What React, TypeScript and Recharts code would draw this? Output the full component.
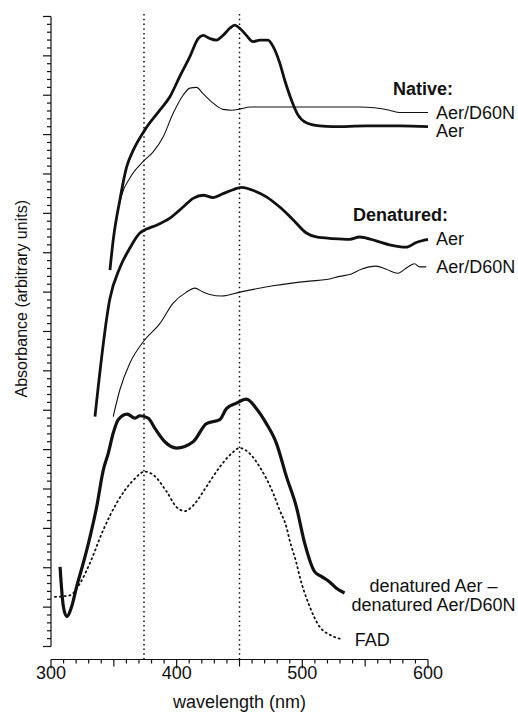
import { LineChart, Line, XAxis, YAxis, ReferenceLine } from 'recharts';

// wavelength (nm), absorbance (arbitrary units; one unit = one minor tick)
const nativeAer: [number, number][] = [
  [346.9, 47.8], [349.5, 51.6], [354.8, 56.7], [360.2, 60.9], [365.4, 63.0], [374.7, 65.6],
  [386.6, 68.1], [394.6, 69.8], [402.5, 72.4], [410.5, 74.9], [417.1, 77.2], [421, 77.6],
  [426.4, 77.2], [431.7, 77.0], [436.9, 77.6], [442.3, 78.5], [446.2, 78.9], [450.2, 78.5],
  [455.5, 77.6], [460.8, 76.8], [466.1, 77.0], [472.7, 77.0], [476.7, 76.2], [482, 74.1],
  [486, 71.9], [491.3, 69.4], [496.5, 67.5], [503.2, 66.5], [513.8, 66.1], [524.4, 66.0],
  [550.9, 66.1], [577.4, 66.1], [600, 66.0],
];

const nativeD60N: [number, number][] = [
  [346.9, 47.8], [349.5, 51.6], [356.2, 57.3], [362.8, 59.5], [373.4, 61.6], [381.3, 62.8],
  [389.2, 64.7], [397.2, 67.7], [405.1, 70.0], [410.5, 70.9], [415.8, 71.0], [421, 70.2],
  [429, 69.0], [436.9, 68.2], [443.6, 68.1], [451.6, 68.3], [458.1, 68.5], [484.6, 68.5],
  [537.6, 68.5], [545.6, 68.5], [569.4, 68.1], [577.4, 67.8], [600, 67.8],
];

const denaturedAer: [number, number][] = [
  [335, 29.2], [346.9, 44.2], [354.8, 48.1], [362.8, 50.6], [370.7, 52.5], [376.1, 53.0],
  [384, 53.5], [394.6, 54.4], [405.1, 55.8], [413.1, 56.9], [421, 57.3], [429, 57.0],
  [436.9, 57.5], [444.9, 58.0], [451.6, 58.3], [459.5, 58.0], [471.4, 57.1], [482, 55.8],
  [492.6, 54.2], [503.2, 52.5], [511.2, 52.0], [524.4, 51.8], [537.6, 51.7], [545.6, 52.0],
  [558.8, 51.5], [569.4, 51.0], [582.7, 50.7], [590.6, 51.3], [600, 51.7],
];

const denaturedD60N: [number, number][] = [
  [349.5, 29.2], [354.8, 32.6], [362.8, 36.0], [373.4, 38.7], [386.6, 41.0], [397.2, 43.6],
  [407.8, 45.0], [414.4, 45.5], [421, 45.0], [426.4, 44.7], [435.7, 44.5], [450.2, 45.0],
  [476.7, 45.8], [505.8, 46.4], [519.1, 46.6], [529.7, 47.0], [539, 47.3], [546.9, 47.9],
  [558.8, 48.3], [566.8, 47.9], [576, 47.4], [584, 48.2], [589.3, 48.6], [593.3, 48.2],
  [598.6, 48.2],
];

const difference: [number, number][] = [
  [307.2, 10.1], [309.8, 5.1], [312.5, 3.8], [316.5, 5.1], [320.4, 7.6], [325.7, 10.6],
  [331, 13.9], [336.3, 17.7], [341.6, 22.4], [345.5, 24.5], [349.5, 27.1], [353.5, 28.8],
  [360.6, 29.5], [366.8, 29.0], [370.7, 29.3], [377.3, 29.0], [382.7, 27.7], [390.6, 26.0],
  [399.9, 25.2], [413.1, 26.0], [423.7, 28.3], [434.3, 28.8], [439.6, 30.2], [447.6, 30.9],
  [455.5, 31.4], [463.5, 30.2], [471.4, 28.3], [479.4, 25.8], [487.3, 21.6], [495.3, 17.7],
  [501.9, 13.1], [509.8, 9.5], [515.1, 8.9], [521.7, 8.2], [527.1, 7.4], [533.6, 6.8],
];

const fad: [number, number][] = [
  [303.2, 6.3], [315.1, 6.5], [323, 8.0], [331, 10.6], [341.6, 14.8], [352.2, 18.2],
  [365.4, 21.1], [374.7, 22.2], [381.3, 21.8], [391.9, 19.7], [399.9, 17.7], [406.5, 17.2],
  [413.1, 17.9], [423.7, 20.3], [434.3, 22.8], [443.6, 24.5], [450.2, 25.2], [456.8, 24.7],
  [466.1, 22.8], [476.7, 19.5], [482, 17.3], [487.3, 15.2], [489.9, 13.5], [495.3, 10.6],
  [497.9, 8.9], [505.8, 5.1], [513.8, 2.5], [521.7, 1.5], [529.7, 1.0],
];

const markerLines = [374, 450];
const xTicks = Array.from({ length: 31 }, (_, i) => 300 + i * 10);
const yTicks = Array.from({ length: 81 }, (_, i) => i);

const FONT = '"Liberation Sans", Arial, Helvetica, sans-serif';
const INK = '#111';

const toPoints = (arr: [number, number][]) => arr.map(([x, y]) => ({ x, y }));

function XTick(props: any) {
  const { x, y, payload } = props;
  const v = payload.value;
  const len = v % 100 === 0 ? 9 : v % 50 === 0 ? 7 : 4;
  return (
    <g>
      <line x1={x} x2={x} y1={y} y2={y + len} stroke={INK} strokeWidth={1.2} />
      {v % 100 === 0 && (
        <text x={x} y={y + 13} textAnchor="middle" dominantBaseline="central"
          fontFamily={FONT} fontSize={18} fill={INK}>{v}</text>
      )}
    </g>
  );
}

function YTick(props: any) {
  const { x, y, payload } = props;
  const len = payload.value % 5 === 0 ? 8 : 4;
  return <line x1={x - len} x2={x} y1={y} y2={y} stroke={INK} strokeWidth={1.2} />;
}

type Tag = { text: string; dx: number; dy: number; bold?: boolean; anchor?: 'start' | 'middle' };

// text attached to the last point of a series
const endLabel = (count: number, tags: Tag[]) => (props: any) => {
  if (props.index !== count - 1) return null;
  return (
    <g>
      {tags.map((t) => (
        <text key={t.text} x={props.x + t.dx} y={props.y + t.dy} textAnchor={t.anchor || 'start'}
          dominantBaseline="central" fontFamily={FONT} fontSize={18}
          fontWeight={t.bold ? 'bold' : 'normal'} fill={INK}>{t.text}</text>
      ))}
    </g>
  );
};

export default function App() {
  return (
    <div style={{ position: 'absolute', left: 0, top: 0, width: 518, height: 713, background: '#fff' }}>
      <LineChart width={518} height={713} margin={{ top: 13, right: 90, bottom: 0, left: 0 }}>
        <XAxis type="number" dataKey="x" domain={[300, 600]} ticks={xTicks} interval={0}
          height={53.5} tickSize={0} tickMargin={0} tickLine={false} tick={<XTick />}
          axisLine={{ stroke: INK, strokeWidth: 1.2 }}
          label={{
            content: ({ viewBox }: any) => (
              <text x={viewBox.x + viewBox.width / 2} y={viewBox.y + 42} textAnchor="middle"
                dominantBaseline="central" fontFamily={FONT} fontSize={18} fill={INK}>
                wavelength (nm)
              </text>
            ),
          }} />
        <YAxis type="number" domain={[-1.65, 80.44]} ticks={yTicks} interval={0} width={51}
          tickSize={0} tickMargin={0} tickLine={false} axisLine={false} tick={<YTick />}
          label={{
            content: ({ viewBox }: any) => (
              <text x={viewBox.x + 22} y={viewBox.y + viewBox.height * 0.442} textAnchor="middle"
                dominantBaseline="central" fontFamily={FONT} fontSize={16} fill={INK}
                transform={`rotate(-90 ${viewBox.x + 22} ${viewBox.y + viewBox.height * 0.442})`}>
                Absorbance (arbitrary units)
              </text>
            ),
          }} />
        <ReferenceLine segment={[{ x: 300, y: 0 }, { x: 300, y: 80 }]} stroke={INK} strokeWidth={1.2} />
        {markerLines.map((w) => (
          <ReferenceLine key={w} x={w} stroke={INK} strokeWidth={1.5} strokeDasharray="1.5 3.2" />
        ))}

        <Line data={toPoints(nativeD60N)} dataKey="y" type="monotone" stroke={INK} strokeWidth={1.1}
          dot={false} isAnimationActive={false}
          label={endLabel(nativeD60N.length, [
            { text: 'Native:', dx: -35, dy: -24, bold: true },
            { text: 'Aer/D60N', dx: 8, dy: 0 },
          ])} />
        <Line data={toPoints(nativeAer)} dataKey="y" type="monotone" stroke={INK} strokeWidth={2.8}
          dot={false} isAnimationActive={false}
          label={endLabel(nativeAer.length, [{ text: 'Aer', dx: 8, dy: 4 }])} />
        <Line data={toPoints(denaturedAer)} dataKey="y" type="monotone" stroke={INK} strokeWidth={2.8}
          dot={false} isAnimationActive={false}
          label={endLabel(denaturedAer.length, [
            { text: 'Denatured:', dx: -75, dy: -24, bold: true },
            { text: 'Aer', dx: 8, dy: 0 },
          ])} />
        <Line data={toPoints(denaturedD60N)} dataKey="y" type="monotone" stroke={INK} strokeWidth={1.1}
          dot={false} isAnimationActive={false}
          label={endLabel(denaturedD60N.length, [{ text: 'Aer/D60N', dx: 10, dy: 0 }])} />
        <Line data={toPoints(difference)} dataKey="y" type="monotone" stroke={INK} strokeWidth={3.2}
          dot={false} isAnimationActive={false}
          label={endLabel(difference.length, [
            { text: 'denatured Aer \u2013', dx: 89, dy: -7, anchor: 'middle' },
            { text: 'denatured Aer/D60N', dx: 89, dy: 12, anchor: 'middle' },
          ])} />
        <Line data={toPoints(fad)} dataKey="y" type="monotone" stroke={INK} strokeWidth={1.8}
          strokeDasharray="1.2 3.6" strokeLinecap="round" dot={false} isAnimationActive={false}
          label={endLabel(fad.length, [{ text: 'FAD', dx: 15, dy: 1 }])} />
      </LineChart>
    </div>
  );
}
